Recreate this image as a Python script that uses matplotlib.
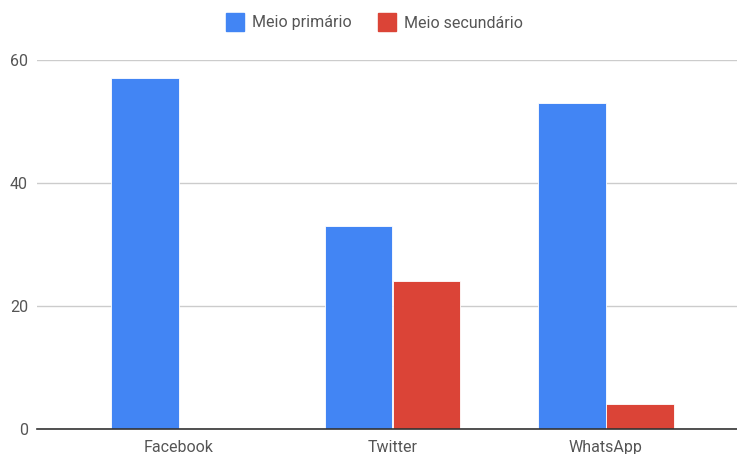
import matplotlib.pyplot as plt
from matplotlib.lines import Line2D
import numpy as np

categories = ['Facebook', 'Twitter', 'WhatsApp']
primario = [57, 33, 53]
secundario = [0, 24, 4]
series_names = ['Meio primário', 'Meio secundário']

blue = '#4285F4'
red = '#DB4437'

plt.rcParams['font.family'] = ['Roboto', 'DejaVu Sans']

fig = plt.figure(figsize=(7.37, 4.54), dpi=100)
ax = fig.add_axes([37 / 737, 25 / 454, 700 / 737, 369 / 454])

x = np.arange(len(categories))
w = 0.316
ax.bar(x - 0.159, primario, w, color=blue, edgecolor='white', linewidth=0.6, zorder=3)
ax.bar(x + 0.159, secundario, w, color=red, edgecolor='white', linewidth=0.6, zorder=3)

ax.set_xlim(-0.665, 2.614)
ax.set_ylim(0, 60)
ax.set_yticks([0, 20, 40, 60])
ax.set_xticks(x)
ax.set_xticklabels(categories)
ax.yaxis.grid(True, color='#cccccc', linewidth=1, zorder=0)
ax.tick_params(axis='both', length=0, labelsize=11.5, labelcolor='#555555')
ax.tick_params(axis='x', pad=8)
ax.tick_params(axis='y', pad=6.5)
for s in ['top', 'right', 'left']:
    ax.spines[s].set_visible(False)
ax.spines['bottom'].set_color('#333333')
ax.spines['bottom'].set_linewidth(1.2)
ax.spines['bottom'].set_zorder(4)

handles = [Line2D([], [], marker='s', linestyle='', markersize=12.5, color=blue),
           Line2D([], [], marker='s', linestyle='', markersize=12.5, color=red)]
fig.legend(handles, series_names, loc='center', bbox_to_anchor=(375 / 737, 1 - 23 / 454),
           ncol=2, frameon=False, fontsize=11.5, labelcolor='#555555',
           handletextpad=0.55, columnspacing=1.75, handlelength=1.0)

fig.savefig('out.png', dpi=100)
